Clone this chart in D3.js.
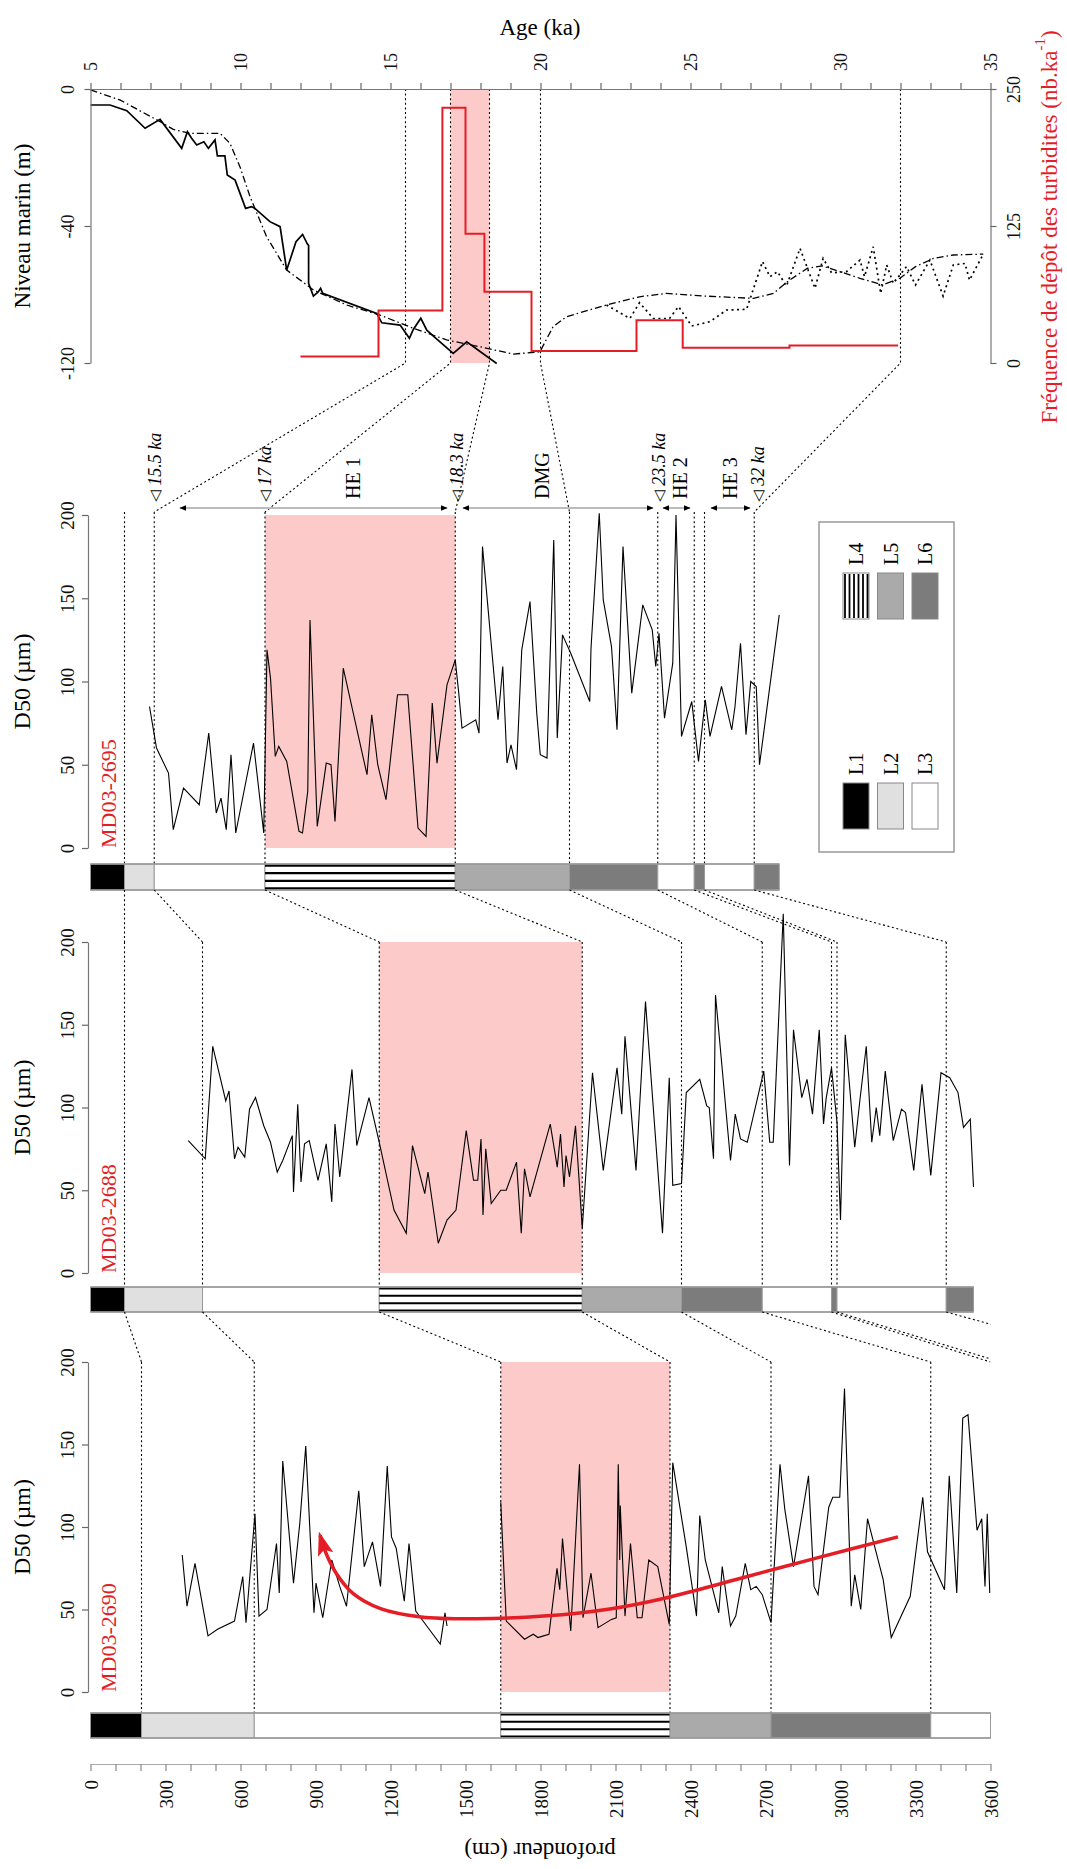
<!DOCTYPE html>
<html><head><meta charset="utf-8">
<script src="https://cdn.jsdelivr.net/npm/d3@7"></script>
<style>body{margin:0;background:#fff}svg{display:block}text{font-family:"Liberation Serif","Times New Roman",serif}</style>
</head><body><svg id="c" width="1067" height="1869"></svg>
<script>
// ---------------- DATA ----------------
const ageTicks = [5,10,15,20,25,30,35];
const seaTickValues = [0,-60,-120];
const seaTickLabels = ["0","-40","-120"];
const freqTicks = [0,125,250];
const d50Ticks = [0,50,100,150,200];
const depthTicks = [0,300,600,900,1200,1500,1800,2100,2400,2700,3000,3300,3600];

const seaLevelObs = [[5.0,-7.0],[5.65,-7.0],[6.21,-9.5],[6.82,-17.2],[7.32,-13.3],[8.04,-26.0],[8.23,-18.7],[8.37,-21.6],[8.54,-24.5],[8.78,-23.1],[8.93,-26.0],[9.15,-22.3],[9.23,-29.3],[9.48,-29.3],[9.56,-37.7],[9.82,-39.9],[10.17,-52.3],[10.37,-51.5],[10.48,-52.3],[10.98,-58.1],[11.32,-60.3],[11.54,-79.3],[11.85,-66.9],[12.07,-63.7],[12.23,-67.9],[12.27,-68.5],[12.27,-85.1],[12.43,-90.7],[12.59,-88.9],[12.67,-87.3],[12.74,-89.5],[14.54,-98.3],[14.71,-102.4],[15.32,-103.4],[15.63,-109.2],[15.76,-105.3],[16.01,-100.4],[16.21,-105.6],[16.43,-108.2],[17.09,-115.8],[17.54,-110.7],[18.54,-120.2]];
const seaLevelModel = [[5.0,-0.4],[5.98,-4.8],[7.32,-14.3],[7.76,-17.7],[8.32,-19.4],[9.32,-19.4],[9.65,-23.8],[9.98,-34.0],[10.32,-47.2],[10.87,-64.7],[11.54,-79.3],[12.43,-88.0],[13.54,-94.6],[14.65,-99.0],[15.76,-104.8],[16.87,-109.9],[17.98,-112.9],[19.09,-116.1],[19.98,-115.1],[20.42,-104.1],[20.87,-99.7],[22.2,-94.6],[23.3,-91.0],[24.2,-89.5],[25.5,-90.7],[27.1,-91.7],[27.76,-89.5],[28.3,-83.7],[28.9,-78.5],[29.4,-77.5],[29.98,-80.0],[30.65,-82.9],[31.4,-85.8],[31.98,-82.9],[32.5,-77.8],[33.1,-74.2],[33.76,-72.7],[34.76,-72.3]];
const seaLevelDotted = [[22.2,-94.6],[22.98,-100.5],[23.3,-93.6],[23.76,-100.5],[24.3,-100.5],[24.6,-95.3],[25.04,-103.8],[25.65,-101.9],[26.2,-96.8],[26.87,-96.5],[27.4,-75.6],[27.65,-82.2],[27.9,-80.0],[28.2,-86.3],[28.65,-69.8],[29.15,-87.3],[29.42,-74.2],[29.7,-80.5],[30.2,-80.0],[30.65,-74.9],[30.8,-82.2],[31.09,-69.1],[31.34,-89.5],[31.54,-77.1],[31.76,-85.1],[32.2,-77.8],[32.5,-85.8],[32.98,-74.9],[33.42,-90.7],[33.76,-77.1],[34.15,-76.4],[34.3,-83.7],[34.76,-72.3]];
const turbAgeEdges = [12.0,14.6,16.73,17.5,18.13,19.7,23.2,24.74,28.3,31.92];
const turbFreq = [6,48,233,118,65,11,39,14,16];
const he1Ages = [17.0,18.3];
const markerAges = [15.5,17,18.3,20,32];
const markerDepths2695 = [255,698,1459,1916,2655];

const cores = ["MD03-2695","MD03-2688","MD03-2690"];
const d50_2695 = [[236,85],[264,60],[312,45],[331,11],[372,36],[435,26],[473,69],[503,21],[522,30],[543,11],[562,56],[581,9],[652,63],[693,9],[706,119],[720,102],[739,55],[753,61],[785,52],[834,10],[848,9],[869,34],[878,137],[907,13],[943,51],[962,50],[978,16],[1011,108],[1106,44],[1125,80],[1149,50],[1182,29],[1228,92],[1269,92],[1310,12],[1342,7],[1367,87],[1386,51],[1426,98],[1459,113],[1473,93],[1486,72],[1541,77],[1554,69],[1568,181],[1630,77],[1649,109],[1666,51],[1682,62],[1704,47],[1725,119],[1758,148],[1785,81],[1799,56],[1826,54],[1853,185],[1867,66],[1888,128],[1921,117],[1997,88],[2002,120],[2035,201],[2051,149],[2084,121],[2106,71],[2130,181],[2165,93],[2209,146],[2247,131],[2261,109],[2274,129],[2296,78],[2329,111],[2342,200],[2364,67],[2405,88],[2432,52],[2459,89],[2478,67],[2524,97],[2565,71],[2578,85],[2600,123],[2622,68],[2641,100],[2663,97],[2676,50],[2755,140]];
const d50_2688 = [[391,80],[459,69],[489,137],[541,104],[554,110],[576,69],[590,76],[617,70],[636,99],[660,106],[693,89],[720,79],[747,61],[769,68],[807,83],[812,49],[829,102],[842,55],[856,78],[875,80],[910,56],[943,78],[965,43],[978,90],[997,58],[1046,123],[1065,77],[1114,106],[1155,79],[1214,38],[1263,24],[1288,77],[1337,48],[1350,61],[1391,18],[1426,32],[1462,38],[1503,86],[1532,56],[1549,56],[1562,81],[1570,35],[1581,75],[1603,42],[1641,50],[1663,50],[1704,67],[1723,24],[1736,63],[1758,46],[1839,90],[1867,64],[1880,84],[1894,52],[1902,71],[1916,58],[1940,89],[1967,27],[2008,121],[2051,62],[2106,124],[2125,96],[2138,143],[2182,62],[2220,164],[2288,24],[2315,118],[2329,53],[2364,54],[2383,109],[2437,117],[2465,101],[2475,100],[2492,69],[2500,168],[2560,68],[2579,96],[2600,81],[2627,79],[2693,122],[2717,79],[2731,79],[2771,217],[2796,65],[2812,147],[2845,106],[2866,117],[2888,96],[2915,147],[2932,90],[2943,106],[2964,124],[2986,91],[3000,32],[3019,144],[3057,76],[3078,105],[3103,137],[3125,79],[3143,100],[3157,83],[3179,122],[3211,80],[3244,99],[3260,97],[3293,62],[3326,114],[3361,59],[3402,121],[3437,118],[3470,109],[3492,88],[3519,93],[3532,52]];
const d50_2690 = [[367,83],[386,52],[418,78],[470,34],[508,38],[576,43],[609,70],[622,42],[658,108],[674,46],[706,50],[744,90],[755,60],[769,140],[812,66],[837,102],[861,149],[894,48],[902,66],[929,45],[965,80],[997,64],[1024,52],[1073,122],[1095,76],[1128,91],[1160,64],[1187,137],[1204,94],[1223,87],[1255,55],[1274,90],[1301,49],[1345,40],[1399,29],[1418,48],[1426,40],null,[1641,115],[1663,43],[1736,32],[1771,35],[1790,33],[1812,34],[1834,35],[1866,75],[1877,62],[1888,93],[1921,37],[1956,138],[1970,45],[2002,72],[2030,39],[2084,44],[2103,45],[2111,138],[2117,80],[2119,113],[2138,46],[2160,90],[2187,45],[2206,45],[2233,80],[2269,76],[2315,41],[2329,139],[2383,88],[2424,46],[2437,107],[2459,80],[2513,48],[2527,76],[2560,40],[2581,46],[2619,78],[2641,62],[2663,64],[2687,59],[2722,42],[2758,138],[2777,111],[2812,76],[2872,131],[2894,64],[2910,59],[2953,112],[2969,118],[2997,118],[3016,184],[3043,52],[3057,71],[3081,50],[3108,105],[3171,68],[3203,33],[3279,58],[3329,118],[3348,85],[3416,62],[3435,131],[3465,60],[3489,166],[3510,168],[3546,98],[3565,105],[3578,64],[3587,108],[3597,60]];

const litho2695 = [[0,136,"L1"],[136,255,"L2"],[255,698,"L3"],[698,1459,"L4"],[1459,1916,"L5"],[1916,2269,"L6"],[2269,2415,"L3"],[2415,2456,"L6"],[2456,2655,"L3"],[2655,2755,"L6"]];
const litho2688 = [[0,136,"L1"],[136,448,"L2"],[448,1155,"L3"],[1155,1967,"L4"],[1967,2364,"L5"],[2364,2687,"L6"],[2687,2964,"L3"],[2964,2986,"L6"],[2986,3423,"L3"],[3423,3532,"L6"]];
const litho2690 = [[0,204,"L1"],[204,655,"L2"],[655,1641,"L3"],[1641,2318,"L4"],[2318,2722,"L5"],[2722,3361,"L6"],[3361,3600,"L3"]];
const bounds2695 = [136,255,698,1459,1916,2269,2415,2456,2655];
const bounds2688 = [136,448,1155,1967,2364,2687,2964,2986,3423];
const bounds2690 = [204,655,1641,2318,2722,3361,3600,3640,4150];
const pink2695 = [698,1459], pink2688 = [1155,1967], pink2690 = [1641,2318];

const annotLabels = ["15.5 ka","17 ka","18.3 ka","23.5 ka","32 ka"];
const annotDepths = [258,698,1466,2274,2670];
const periodArrows = [[358,1426],[1490,2250],[2290,2398],[2482,2638]];
const periodLabels = ["HE 1","DMG","HE 2","HE 3"];
const periodLabelDepths = [1050,1806,2358,2558];
const trendArrow = [[3230,94],[2899,81],[2627,70],[2301,57],[2084,50.5],[1812,46],[1541,44.4],[1323,45.5],[1160,50.5],[1051,59.6],[984,71.7],[943,83.8],[918,95]];
const legendItems = ["L4","L5","L6","L1","L2","L3"];
const lithoColors = {L1:"#000000",L2:"#e0e0e0",L3:"#ffffff",L4:"#ffffff",L5:"#aaaaaa",L6:"#7c7c7c"};

// ---------------- DRAWING ----------------
const svg = d3.select("#c");
const RED = "#e41e26", PINK = "#fdcaca", FONT = "Liberation Serif, Times New Roman, serif";
const DOT = "2,2.6";

const xAge = d3.scaleLinear().domain([5,35]).range([90.5,990.5]);
const ySea = d3.scaleLinear().domain([0,-120]).range([89,363]);
const yFreq = d3.scaleLinear().domain([0,250]).range([363,89]);
const xDepth = d3.scaleLinear().domain([0,3600]).range([90.5,990.5]);

const panels = [
  {name:cores[0], data:d50_2695, litho:litho2695, bounds:bounds2695, pink:pink2695, y0:848, y1:515, barTop:864, barBot:890},
  {name:cores[1], data:d50_2688, litho:litho2688, bounds:bounds2688, pink:pink2688, y0:1273, y1:942, barTop:1287, barBot:1312},
  {name:cores[2], data:d50_2690, litho:litho2690, bounds:bounds2690, pink:pink2690, y0:1692, y1:1362, barTop:1713, barBot:1738}
];
panels.forEach(p => p.y = d3.scaleLinear().domain([0,200]).range([p.y0,p.y1]));

const defs = svg.append("defs");
defs.append("clipPath").attr("id","clipX").append("rect").attr("x",0).attr("y",0).attr("width",xDepth(3600)).attr("height",1869);
defs.append("marker").attr("id","ah").attr("viewBox","0 -5 10 10").attr("refX",9).attr("refY",0)
  .attr("markerWidth",7).attr("markerHeight",7).attr("markerUnits","userSpaceOnUse").attr("orient","auto-start-reverse")
  .append("path").attr("d","M0,-4L10,0L0,4Z").attr("fill","#000");
defs.append("marker").attr("id","redhead").attr("viewBox","0 -9 24 18").attr("refX",20).attr("refY",0)
  .attr("markerWidth",24).attr("markerHeight",18).attr("markerUnits","userSpaceOnUse").attr("orient","auto")
  .append("path").attr("d","M0,-8L24,0L0,8L5,0Z").attr("fill",RED);

function vtext(g, x, y, txt, anchor, size, extra){
  const t = g.append("text").attr("transform",`translate(${x},${y}) rotate(-90)`)
    .attr("text-anchor",anchor).attr("dominant-baseline","central").attr("font-size",size).attr("font-family",FONT);
  if (txt !== null) t.text(txt);
  if (extra) extra(t);
  return t;
}
function styleAxis(g){
  g.attr("font-family",FONT);
  g.selectAll(".domain").attr("stroke","#777").attr("stroke-width",1.2);
  g.selectAll(".tick line").attr("stroke","#666").attr("stroke-width",1.2);
  g.selectAll("text").attr("font-size",18).attr("fill","#111").attr("font-family",FONT);
}

// ---- Top panel ----
const topG = svg.append("g");
topG.append("rect").attr("x",xAge(he1Ages[0])).attr("y",ySea(0)).attr("width",xAge(he1Ages[1])-xAge(he1Ages[0]))
  .attr("height",ySea(-120)-ySea(0)).attr("fill",PINK);

markerAges.forEach((a,i)=>{
  const xd = xDepth(markerDepths2695[i]);
  topG.append("path").attr("d",d3.line()([[xAge(a),ySea(0)],[xAge(a),ySea(-120)],[xd,512]]))
    .attr("fill","none").attr("stroke","#000").attr("stroke-width",1.1).attr("stroke-dasharray",DOT);
});

const lineAge = d3.line().x(d=>xAge(d[0])).y(d=>ySea(d[1]));
topG.append("path").attr("d",lineAge(seaLevelModel)).attr("fill","none").attr("stroke","#000").attr("stroke-width",1.3).attr("stroke-dasharray","7,3,1.5,3");
topG.append("path").attr("d",lineAge(seaLevelDotted)).attr("fill","none").attr("stroke","#000").attr("stroke-width",1.7).attr("stroke-dasharray","2,3.5");
topG.append("path").attr("d",lineAge(seaLevelObs)).attr("fill","none").attr("stroke","#000").attr("stroke-width",1.7);

const stepPts = turbFreq.map((v,i)=>[turbAgeEdges[i],v]).concat([[turbAgeEdges[turbAgeEdges.length-1],turbFreq[turbFreq.length-1]]]);
topG.append("path").attr("d",d3.line().x(d=>xAge(d[0])).y(d=>yFreq(d[1])).curve(d3.curveStepAfter)(stepPts))
  .attr("fill","none").attr("stroke",RED).attr("stroke-width",2);

const gTop = topG.append("g").attr("transform",`translate(0,${ySea(0)})`)
  .call(d3.axisTop(xAge).tickValues(d3.range(5,36,1)).tickSize(6).tickSizeOuter(0).tickFormat(d=>ageTicks.includes(d)?d:""));
styleAxis(gTop);
gTop.selectAll("text").attr("transform","rotate(-90)").attr("x",18).attr("y",0).attr("dy",null)
  .attr("text-anchor","start").attr("dominant-baseline","central");

const gSea = topG.append("g").attr("transform",`translate(${xAge(5)},0)`)
  .call(d3.axisLeft(ySea).tickValues(seaTickValues).tickSize(6).tickSizeOuter(0).tickFormat((d,i)=>seaTickLabels[i]));
styleAxis(gSea);
gSea.selectAll("text").attr("transform","rotate(-90)").attr("x",0).attr("y",-23).attr("dy",null)
  .attr("text-anchor","middle").attr("dominant-baseline","central");

const gFreq = topG.append("g").attr("transform",`translate(${xAge(35)},0)`)
  .call(d3.axisRight(yFreq).tickValues(freqTicks).tickSize(6).tickSizeOuter(0));
styleAxis(gFreq);
gFreq.selectAll("text").attr("transform","rotate(-90)").attr("x",0).attr("y",23).attr("dy",null)
  .attr("text-anchor","middle").attr("dominant-baseline","central");

topG.append("text").attr("x",540).attr("y",27).attr("text-anchor","middle").attr("dominant-baseline","central")
  .attr("font-size",23).attr("font-family",FONT).text("Age (ka)");
vtext(topG, 22, 226, "Niveau marin (m)", "middle", 23);
vtext(topG, 1049, 227, null, "middle", 23, t=>{
  t.attr("fill",RED);
  t.append("tspan").text("Fréquence de dépôt des turbidites (nb.ka");
  t.append("tspan").attr("font-size",15).attr("dy",-9).text("-1");
  t.append("tspan").attr("dy",9).text(")");
});

// ---- Core panels ----
panels.forEach((p,pi)=>{
  const g = svg.append("g");
  g.append("rect").attr("x",xDepth(p.pink[0])).attr("y",p.y(200)).attr("width",xDepth(p.pink[1])-xDepth(p.pink[0]))
    .attr("height",p.y(0)-p.y(200)).attr("fill",PINK);
  const vTop = pi===0 ? 512 : p.y(200);
  p.bounds.filter(b=>b<3600).forEach(b=>{
    g.append("line").attr("x1",xDepth(b)).attr("x2",xDepth(b)).attr("y1",vTop).attr("y2",p.barTop)
      .attr("stroke","#000").attr("stroke-width",1.1).attr("stroke-dasharray",DOT);
  });
  if (pi < panels.length-1){
    const n = panels[pi+1];
    const lg = svg.append("g").attr("clip-path","url(#clipX)");
    p.bounds.forEach((b,i)=>{
      lg.append("line").attr("x1",xDepth(b)).attr("y1",p.barBot).attr("x2",xDepth(n.bounds[i])).attr("y2",n.y(200))
        .attr("stroke","#000").attr("stroke-width",1.1).attr("stroke-dasharray",DOT);
    });
  }
  const ln = d3.line().defined(d=>d!==null).x(d=>xDepth(d[0])).y(d=>p.y(d[1]));
  g.append("path").attr("d",ln(p.data)).attr("fill","none").attr("stroke","#000").attr("stroke-width",1.1);
  const ga = g.append("g").attr("transform","translate(88,0)")
    .call(d3.axisLeft(p.y).tickValues(d50Ticks).tickSize(6).tickSizeOuter(0));
  styleAxis(ga);
  ga.selectAll("text").attr("transform","rotate(-90)").attr("x",0).attr("y",-21).attr("dy",null)
    .attr("text-anchor","middle").attr("dominant-baseline","central").attr("font-size",19);
  vtext(g, 22, (p.y0+p.y1)/2, "D50 (µm)", "middle", 24);
  vtext(g, 108, p.y0, p.name, "start", 22).attr("fill",RED);
  const bh = p.barBot - p.barTop;
  p.litho.forEach(s=>{
    const x0 = xDepth(s[0]), x1 = xDepth(s[1]);
    g.append("rect").attr("x",x0).attr("y",p.barTop).attr("width",x1-x0).attr("height",bh)
      .attr("fill",lithoColors[s[2]]).attr("stroke","#999").attr("stroke-width",1);
    if (s[2]==="L4"){
      [0.06,0.35,0.65,0.94].forEach(f=>{
        g.append("line").attr("x1",x0).attr("x2",x1).attr("y1",p.barTop+f*bh).attr("y2",p.barTop+f*bh)
          .attr("stroke","#000").attr("stroke-width",2.2);
      });
    }
  });
  const xEnd = xDepth(p.litho[p.litho.length-1][1]);
  g.append("line").attr("x1",xDepth(0)).attr("x2",xEnd).attr("y1",p.barTop).attr("y2",p.barTop).attr("stroke","#999").attr("stroke-width",1.5);
  g.append("line").attr("x1",xDepth(0)).attr("x2",xEnd).attr("y1",p.barBot).attr("y2",p.barBot).attr("stroke","#999").attr("stroke-width",1.5);
});

// ---- annotations above MD03-2695 ----
const ann = svg.append("g");
periodArrows.forEach(a=>{
  ann.append("line").attr("x1",xDepth(a[0])).attr("x2",xDepth(a[1])).attr("y1",508).attr("y2",508)
    .attr("stroke","#bbb").attr("stroke-width",2).attr("marker-start","url(#ah)").attr("marker-end","url(#ah)");
});
annotLabels.forEach((l,i)=>{
  vtext(ann, xDepth(annotDepths[i]), 502, null, "start", 18, t=>{
    t.append("tspan").attr("font-family","DejaVu Sans, sans-serif").attr("font-size",15).text("◁ ");
    t.append("tspan").attr("font-style","italic").text(l);
  });
});
periodLabels.forEach((l,i)=>{ vtext(ann, xDepth(periodLabelDepths[i]), 499, l, "start", 20); });

// ---- red trend arrow (MD03-2690) ----
const p3 = panels[2];
svg.append("path").attr("d",d3.line().x(d=>xDepth(d[0])).y(d=>p3.y(d[1])).curve(d3.curveCatmullRom)(trendArrow))
  .attr("fill","none").attr("stroke",RED).attr("stroke-width",3.5).attr("marker-end","url(#redhead)");

// ---- depth axis ----
const gD = svg.append("g").attr("transform","translate(0,1764)")
  .call(d3.axisBottom(xDepth).tickValues(d3.range(0,3601,100)).tickSize(7).tickSizeOuter(0).tickFormat(d=>depthTicks.includes(d)?d:""));
styleAxis(gD);
gD.selectAll(".domain").attr("stroke","#aaa");
gD.selectAll(".tick line").attr("stroke","#888");
gD.selectAll("text").attr("transform","rotate(-90)").attr("x",-16).attr("y",0).attr("dy",null)
  .attr("text-anchor","end").attr("dominant-baseline","central").attr("font-size",19);
svg.append("text").attr("transform","translate(540,1850) rotate(180)").attr("text-anchor","middle")
  .attr("dominant-baseline","central").attr("font-size",23).attr("font-family",FONT).text("profondeur (cm)");

// ---- legend ----
const leg = svg.append("g");
leg.append("rect").attr("x",819).attr("y",522).attr("width",135).attr("height",330).attr("fill","#fff").attr("stroke","#999").attr("stroke-width",1.5);
const legX = d3.scalePoint().domain([0,1,2]).range([843,912]);
legendItems.forEach((k,i)=>{
  const col = i%3, row = Math.floor(i/3);
  const x = legX(col), y = row===0 ? 573 : 783;
  leg.append("rect").attr("x",x).attr("y",y).attr("width",26).attr("height",46).attr("fill",lithoColors[k]).attr("stroke","#888").attr("stroke-width",1);
  if (k==="L4"){
    d3.range(6).forEach(j=>{
      leg.append("line").attr("x1",x+2+j*4.5).attr("x2",x+2+j*4.5).attr("y1",y+1).attr("y2",y+45).attr("stroke","#000").attr("stroke-width",1.8);
    });
  }
  vtext(leg, x+13, y-8, k, "start", 20);
});
</script></body></html>
